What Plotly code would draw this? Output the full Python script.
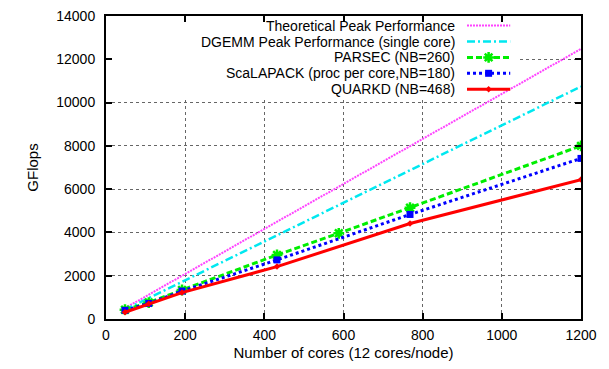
import plotly.graph_objects as go

# ---- data ----
cores_line = [48, 1200]
theoretical = [500, 12480]
dgemm = [430, 10740]

cores_parsec = [48, 108, 192, 432, 588, 768, 1200]
parsec = [430, 760, 1340, 2960, 3960, 5140, 8000]

cores_scalapack = [48, 108, 192, 432, 768, 1200]
scalapack = [400, 720, 1290, 2730, 4830, 7420]

cores_quarkd = [48, 108, 192, 432, 768, 1200]
quarkd = [310, 700, 1220, 2420, 4410, 6440]

names = ["Theoretical Peak Performance",
         "DGEMM Peak Performance (single core)",
         "PARSEC (NB=260)",
         "ScaLAPACK (proc per core,NB=180)",
         "QUARKD (NB=468)"]

x_ticks = [0, 200, 400, 600, 800, 1000, 1200]
y_ticks = [0, 2000, 4000, 6000, 8000, 10000, 12000, 14000]

FONT = "Liberation Sans, Arial, Helvetica, sans-serif"
FS = 15
FS_TICK = 14
FS_LEG = 14
MAG = "#ff44ff"
CYAN = "#00e8f0"
GREEN = "#00ee00"
BLUE = "#0000ff"
RED = "#ff0000"

styles = [
    dict(line=dict(color=MAG, width=2, dash="2px,1px"), mode="lines", marker=None),
    dict(line=dict(color=CYAN, width=2.5, dash="8px,3px,2px,3px"), mode="lines", marker=None),
    dict(line=dict(color=GREEN, width=3, dash="6px,3px"), mode="lines+markers",
         marker=dict(symbol="asterisk-open", size=9, color=GREEN, line=dict(color=GREEN, width=2.5))),
    dict(line=dict(color=BLUE, width=3, dash="3px,3px"), mode="lines+markers",
         marker=dict(symbol="square", size=7, color=BLUE)),
    dict(line=dict(color=RED, width=3), mode="lines+markers",
         marker=dict(symbol="diamond", size=5, color=RED)),
]

series = [(cores_line, theoretical), (cores_line, dgemm),
          (cores_parsec, parsec), (cores_scalapack, scalapack), (cores_quarkd, quarkd)]

fig = go.Figure()

# opaque legend box (hides gridlines, drawn beneath the data)
fig.add_trace(go.Scatter(x=[0, 1040, 1040, 0, 0], y=[10150, 10150, 14000, 14000, 10150],
                         mode="lines", fill="toself", fillcolor="white",
                         line=dict(width=0, color="white"), showlegend=False, hoverinfo="skip"))

for (xs, ys), st, nm in zip(series, styles, names):
    kw = dict(x=xs, y=ys, name=nm, mode=st["mode"], line=st["line"], showlegend=False)
    if st["marker"] is not None:
        kw["marker"] = st["marker"]
    fig.add_trace(go.Scatter(**kw))

# ---- manual legend (gnuplot style: text, then sample on the right) ----
# plot area spans page y 16..319 (303 px)
row_px = [25.6, 41.5, 57.4, 73.3, 89.2]
row_y = [1 - (p - 16) / 303 for p in row_px]
sx0, sx1 = 0.760, 0.851
for st, nm, yy in zip(styles, names, row_y):
    fig.add_trace(go.Scatter(x=[sx0, sx1], y=[yy, yy], xaxis="x2", yaxis="y2",
                             mode="lines", line=st["line"], showlegend=False, hoverinfo="skip"))
    if st["marker"] is not None:
        fig.add_trace(go.Scatter(x=[(sx0 + sx1) / 2], y=[yy], xaxis="x2", yaxis="y2",
                                 mode="markers", marker=st["marker"], showlegend=False,
                                 hoverinfo="skip"))
    fig.add_annotation(x=0.737, y=yy, xref="x2", yref="y2", text=nm, showarrow=False,
                       xanchor="right", yanchor="middle", borderpad=0,
                       font=dict(family=FONT, size=FS_LEG, color="black"))

axis_common = dict(showline=True, linecolor="black", linewidth=2, mirror="ticks",
                   ticks="inside", ticklen=6, tickwidth=1.5, tickcolor="black",
                   showgrid=True, gridcolor="#666666", griddash="dot", gridwidth=1,
                   zeroline=False, automargin=False, ticklabeloverflow="allow",
                   tickfont=dict(family=FONT, size=FS_TICK, color="black"))

# the page body adds an 8px offset; figure size and margins compensate for it
fig.update_layout(
    template="none",
    width=601, height=361,
    margin=dict(l=98, r=28, t=8, b=50, autoexpand=False),
    paper_bgcolor="white", plot_bgcolor="white",
    font=dict(family=FONT, size=FS, color="black"),
    xaxis=dict(range=[0, 1200], tickvals=x_ticks, ticktext=[str(v) for v in x_ticks],
               title=dict(text="Number of cores (12 cores/node)", standoff=6,
                          font=dict(family=FONT, size=FS)),
               ticklabelstandoff=2, **axis_common),
    yaxis=dict(range=[0, 14000], tickvals=y_ticks, ticktext=[str(v) for v in y_ticks],
               title=dict(text="GFlops", standoff=14, font=dict(family=FONT, size=FS)),
               ticklabelstandoff=6, **axis_common),
    xaxis2=dict(overlaying="x", range=[0, 1], visible=False, fixedrange=True),
    yaxis2=dict(overlaying="y", range=[0, 1], visible=False, fixedrange=True),
)

fig.write_html("out.html")
